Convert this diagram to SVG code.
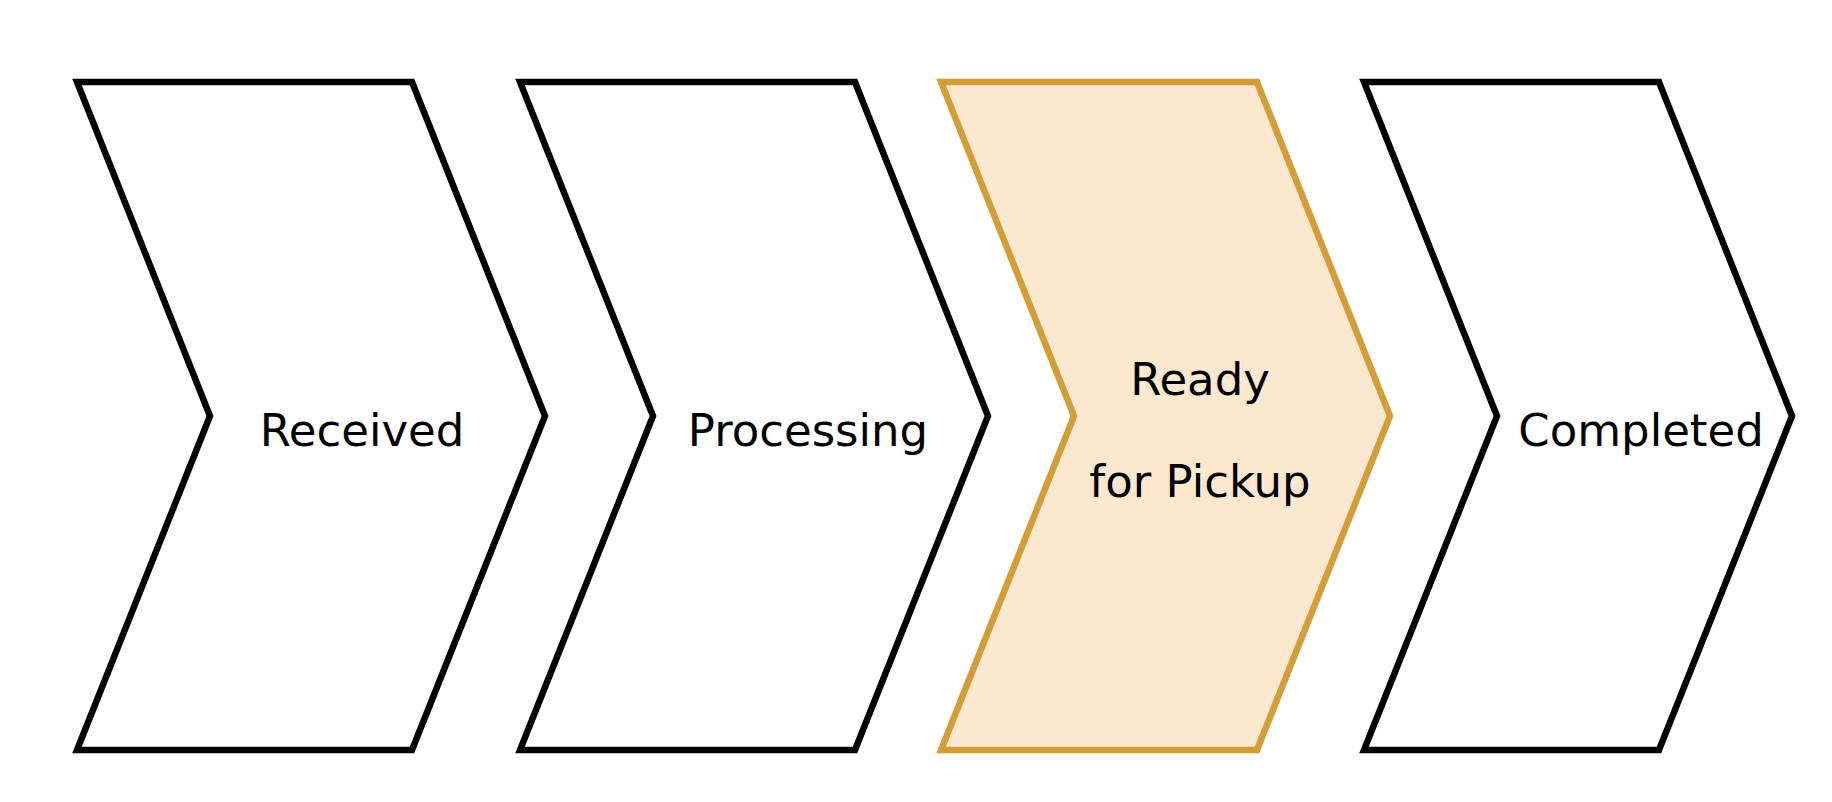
<svg xmlns="http://www.w3.org/2000/svg" width="1832" height="802" viewBox="0 0 1832 802">
<style>
.step{fill:#ffffff;stroke:#000000;stroke-width:6.5;stroke-miterlimit:10}
.hl{fill:#fce7cf;stroke:#d49d38}
.lbl{font-family:"DejaVu Sans",Verdana,sans-serif;font-size:45px;fill:#000000;text-anchor:middle}
</style>
<rect width="1832" height="802" fill="#ffffff"/>
<g id="connectors"></g>
<g id="received">
<polygon class="step" points="77,82 412,82 545,416 412,750 77,750 210,416"/>
<text class="lbl" x="362" y="446">Received</text>
</g>
<g id="processing">
<polygon class="step" points="520,82 855,82 988,416 855,750 520,750 653,416"/>
<text class="lbl" x="808" y="446">Processing</text>
</g>
<g id="ready">
<polygon class="step hl" points="941,82 1257,82 1390,416 1257,750 941,750 1074,416"/>
<text class="lbl" x="1200" y="395">Ready</text>
<text class="lbl" x="1200" y="497">for Pickup</text>
</g>
<g id="completed">
<polygon class="step" points="1364,82 1659,82 1792,416 1659,750 1364,750 1497,416"/>
<text class="lbl" x="1641" y="446">Completed</text>
</g>
</svg>
